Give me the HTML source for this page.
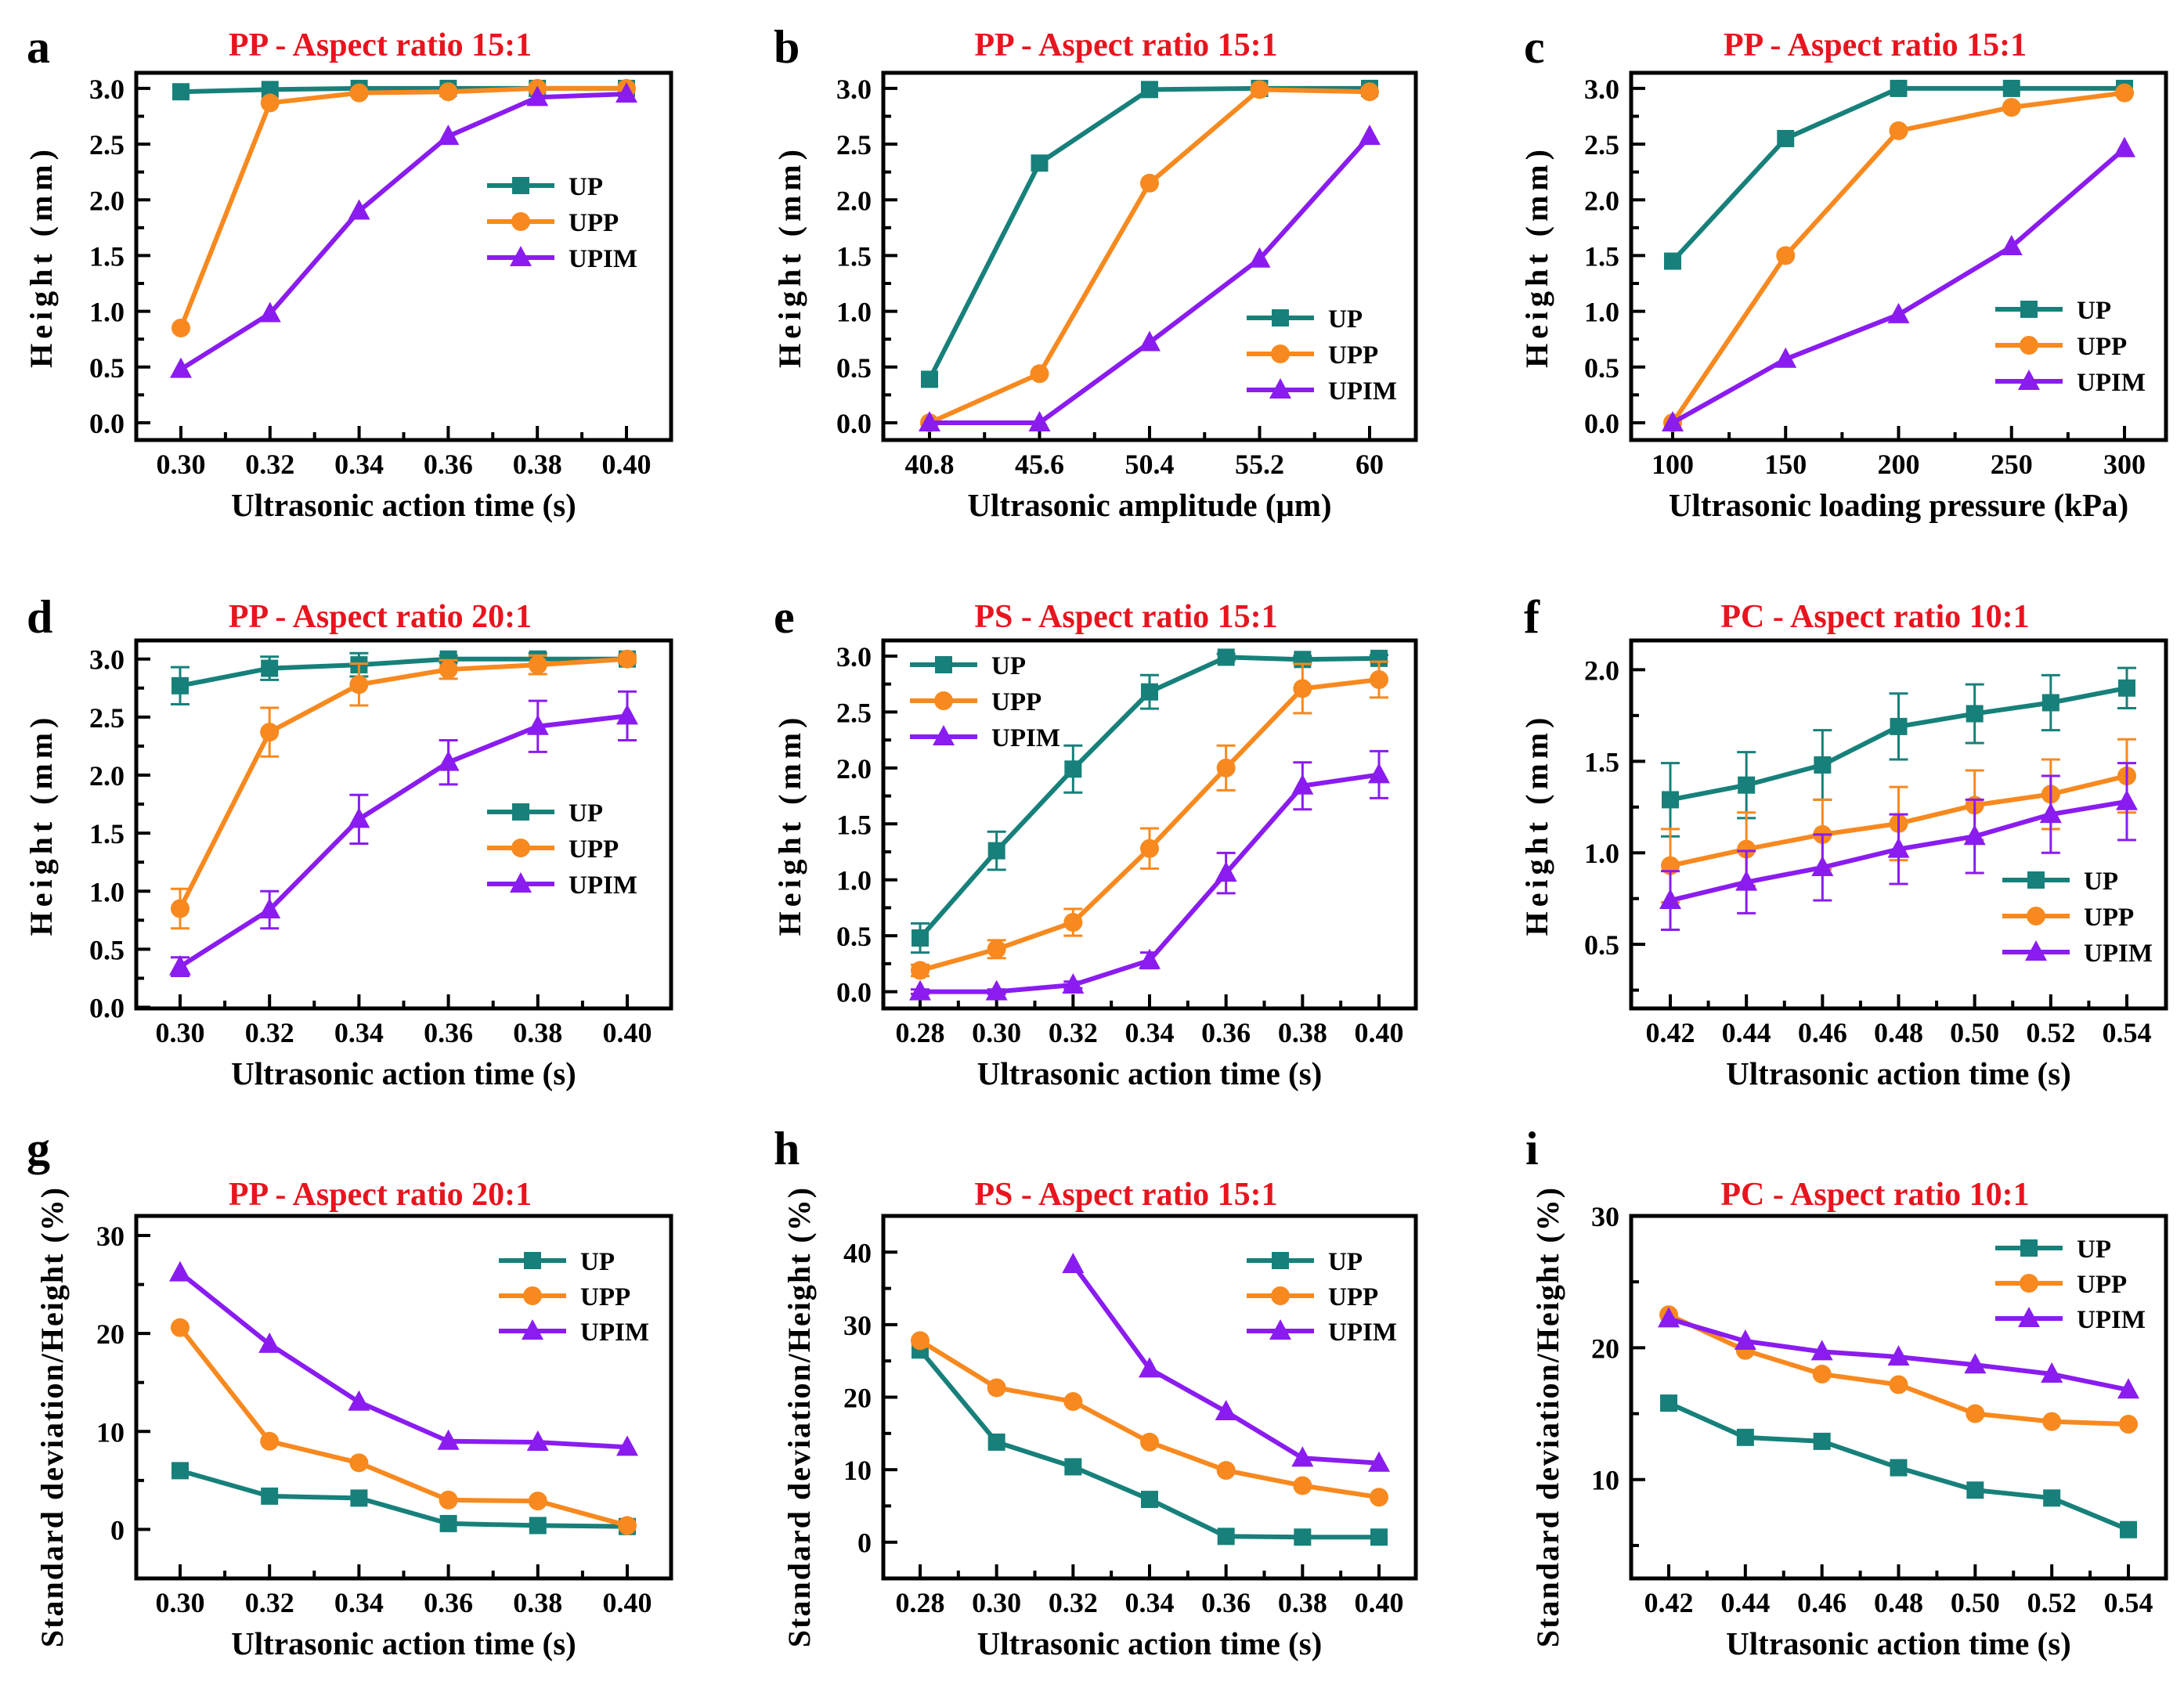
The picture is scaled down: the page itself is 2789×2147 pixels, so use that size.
<!DOCTYPE html>
<html><head><meta charset="utf-8">
<style>
html,body{margin:0;padding:0;background:#fff;}
svg{display:block;font-family:"Liberation Serif",serif;font-weight:bold;}
</style></head>
<body>
<svg id="fig" width="2789" height="2147" viewBox="0 0 2789 2147" xmlns="http://www.w3.org/2000/svg"></svg>
<script>
// ---- data ----
const aX = ["0.30","0.32","0.34","0.36","0.38","0.40"];
const aUP = [2.97,2.99,3.0,3.0,3.0,3.0];
const aUPP = [0.85,2.87,2.96,2.97,3.0,3.0];
const aUPIM = [0.48,0.98,1.9,2.57,2.92,2.95];

const bX = ["40.8","45.6","50.4","55.2","60"];
const bUP = [0.39,2.33,2.99,3.0,3.0];
const bUPP = [0.0,0.44,2.15,2.99,2.97];
const bUPIM = [0.0,0.0,0.72,1.47,2.57];

const cX = ["100","150","200","250","300"];
const cUP = [1.45,2.55,3.0,3.0,3.0];
const cUPP = [0.0,1.5,2.62,2.83,2.96];
const cUPIM = [0.0,0.57,0.97,1.58,2.46];

const dX = ["0.30","0.32","0.34","0.36","0.38","0.40"];
const dUP = [2.77,2.92,2.95,3.0,3.0,3.0];
const dUPerr = [0.16,0.1,0.1,0.03,0.05,0.03];
const dUPP = [0.85,2.37,2.78,2.91,2.95,3.0];
const dUPPerr = [0.17,0.21,0.18,0.08,0.08,0.03];
const dUPIM = [0.35,0.84,1.62,2.11,2.42,2.51];
const dUPIMerr = [0.08,0.16,0.21,0.19,0.22,0.21];

const eX = ["0.28","0.30","0.32","0.34","0.36","0.38","0.40"];
const eUP = [0.48,1.26,1.99,2.68,2.99,2.97,2.98];
const eUPerr = [0.13,0.17,0.21,0.15,0.03,0.03,0.03];
const eUPP = [0.19,0.38,0.62,1.28,2.0,2.71,2.79];
const eUPPerr = [0.05,0.08,0.12,0.18,0.2,0.22,0.16];
const eUPIM = [0.0,0.0,0.06,0.28,1.06,1.84,1.94];
const eUPIMerr = [0.02,0.02,0.03,0.07,0.18,0.21,0.21];

const fX = ["0.42","0.44","0.46","0.48","0.50","0.52","0.54"];
const fUP = [1.29,1.37,1.48,1.69,1.76,1.82,1.9];
const fUPerr = [0.2,0.18,0.19,0.18,0.16,0.15,0.11];
const fUPP = [0.93,1.02,1.1,1.16,1.26,1.32,1.42];
const fUPPerr = [0.2,0.2,0.19,0.2,0.19,0.19,0.2];
const fUPIM = [0.74,0.84,0.92,1.02,1.09,1.21,1.28];
const fUPIMerr = [0.16,0.17,0.18,0.19,0.2,0.21,0.21];

const gX = ["0.30","0.32","0.34","0.36","0.38","0.40"];
const gUP = [6.0,3.4,3.2,0.6,0.4,0.3];
const gUPP = [20.6,9.0,6.8,3.0,2.9,0.4];
const gUPIM = [26.2,18.9,13.0,9.0,8.9,8.4];

const hX = ["0.28","0.30","0.32","0.34","0.36","0.38","0.40"];
const hUP = [26.5,13.8,10.4,5.9,0.8,0.7,0.7];
const hUPP = [27.8,21.3,19.4,13.8,9.9,7.8,6.2];
const hUPIM = [null,null,38.3,23.9,18.0,11.6,10.9];

const iX = ["0.42","0.44","0.46","0.48","0.50","0.52","0.54"];
const iUP = [15.8,13.2,12.9,10.9,9.2,8.6,6.2];
const iUPP = [22.5,19.8,18.0,17.2,15.0,14.4,14.2];
const iUPIM = [22.2,20.5,19.7,19.3,18.7,18.0,16.8];

const heightTicks = ["0.0","0.5","1.0","1.5","2.0","2.5","3.0"];
const fTicks = ["0.5","1.0","1.5","2.0"];
const gTicks = ["0","10","20","30"];
const hTicks = ["0","10","20","30","40"];
const iTicks = ["10","20","30"];

// ---- drawing ----
const NS = "http://www.w3.org/2000/svg";
const svg = document.getElementById("fig");
const C = {UP:"#17807a", UPP:"#f7891f", UPIM:"#8a1cf0"};
function mk(tag, attrs, parent){
  const e = document.createElementNS(NS, tag);
  for (const k in attrs) e.setAttribute(k, attrs[k]);
  (parent||svg).appendChild(e);
  return e;
}
function marker(g, type, x, y, color){
  let m;
  if (type==="UP") m = mk("rect",{x:x-11,y:y-11,width:22,height:22,fill:color},g);
  else if (type==="UPP") m = mk("circle",{cx:x,cy:y,r:12,fill:color},g);
  else m = mk("polygon",{points:`${x},${y-15} ${x+14},${y+11} ${x-14},${y+11}`,fill:color},g);
  return m;
}
function panel(p){
  const g = mk("g",{});
  
  
  const L=p.box[0], R=p.box[1], T=p.box[2], B=p.box[3];
  const n = p.cats.length;
  const xs = i => L + p.pad + (R - L - 2*p.pad) * i / (n - 1);
  const ys = v => B - (v - p.ymin) / (p.ymax - p.ymin) * (B - T);
  const lt = mk("text",{x:p.letter[0],y:p.letter[1],"font-size":60,fill:"#000"},g);
  lt.textContent = p.id;
  
  
  const tt = mk("text",{x:(L+R)/2-30,y:T-p.titleOff,"font-size":42,fill:"#e8141e","text-anchor":"middle"},g);
  tt.textContent = p.title;
  
  
  const fr = mk("rect",{x:L,y:T,width:R-L,height:B-T,fill:"none",stroke:"#000","stroke-width":5},g);
  
  
  for (let i=0;i<n;i++){
    const x = xs(i);
    mk("line",{x1:x,y1:B,x2:x,y2:B-18,stroke:"#000","stroke-width":4},g);
    if (i<n-1){ const xm=(x+xs(i+1))/2; mk("line",{x1:xm,y1:B,x2:xm,y2:B-10,stroke:"#000","stroke-width":4},g); }
    const tl = mk("text",{x:x,y:B+43,"font-size":36,"text-anchor":"middle",fill:"#000"},g);
    tl.textContent = p.cats[i];
    
    
  }
  const step = parseFloat(p.yt[1]) - parseFloat(p.yt[0]);
  for (let v = parseFloat(p.yt[0]) - step; v <= p.ymax + 1e-9; v += step/2){
    if (v < p.ymin - 1e-9) continue;
    const y = ys(v);
    if (y > B - 1) continue;
    const major = p.yt.some(t => Math.abs(parseFloat(t) - v) < 1e-6);
    mk("line",{x1:L,y1:y,x2:L+(major?18:10),y2:y,stroke:"#000","stroke-width":4},g);
  }
  p.yt.forEach(t => {
    const yl = mk("text",{x:L-15,y:ys(parseFloat(t))+13,"font-size":36,"text-anchor":"end",fill:"#000"},g);
    yl.textContent = t;
    
    
  });
  const xt = mk("text",{x:(L+R)/2,y:B+97,"font-size":41,"text-anchor":"middle",fill:"#000"},g);
  xt.textContent = p.xtitle;
  
  
  const cy = (T+B)/2 + (p.ytShift||0);
  const yt = mk("text",{x:p.ytx,y:cy,"font-size":40,"text-anchor":"middle",fill:"#000","letter-spacing":p.ytls||6,transform:`rotate(-90 ${p.ytx} ${cy})`},g);
  yt.textContent = p.ytitle;
  
  
  p.series.forEach(s => {
    const sg = mk("g",{},g);
    
    
    const pts = [];
    s.vals.forEach((v,i)=>{ if (v!==null) pts.push([xs(i), ys(v)]); });
    if (s.err){
      s.vals.forEach((v,i)=>{
        if (v===null) return;
        const x=xs(i), y1=ys(v+s.err[i]), y2=ys(v-s.err[i]);
        mk("line",{x1:x,y1:y1,x2:x,y2:y2,stroke:s.color,"stroke-width":3},sg);
        mk("line",{x1:x-12,y1:y1,x2:x+12,y2:y1,stroke:s.color,"stroke-width":3},sg);
        mk("line",{x1:x-12,y1:y2,x2:x+12,y2:y2,stroke:s.color,"stroke-width":3},sg);
      });
    }
    mk("polyline",{points:pts.map(q=>q.join(",")).join(" "),fill:"none",stroke:s.color,"stroke-width":6,"stroke-linejoin":"round"},sg);
    pts.forEach(q=>{
      const m = marker(sg, s.name, q[0], q[1], s.color);
      
      
    });
  });
  const lg = mk("g",{},g);
  
  
  ["UP","UPP","UPIM"].forEach((nm,k)=>{
    const x0=p.leg[0], y0=p.leg[1]+k*p.legStep;
    const e = mk("g",{},lg);
    
    
    mk("line",{x1:x0,y1:y0,x2:x0+86,y2:y0,stroke:C[nm],"stroke-width":6},e);
    marker(e, nm, x0+43, y0, C[nm]);
    const lt2 = mk("text",{x:x0+104,y:y0+12,"font-size":33,fill:"#000"},e);
    lt2.textContent = nm;
  });
}
function S(up,upp,upim,eu,ep,ei){
  return [{name:"UP",vals:up,err:eu,color:C.UP},{name:"UPP",vals:upp,err:ep,color:C.UPP},{name:"UPIM",vals:upim,err:ei,color:C.UPIM}];
}
const T1="Ultrasonic action time (s)";
const r1=[93,562], r2=[818,1288], r3=[1553,2016];
const c1=[174,857], c2=[1128,1808], c3=[2083,2766];
panel({id:"a",box:[...c1,...r1],pad:57,cats:aX,ymin:-0.155,ymax:3.14,yt:heightTicks,title:"PP - Aspect ratio 15:1",titleOff:22,letter:[34,80],xtitle:T1,ytitle:"Height (mm)",ytx:66,series:S(aUP,aUPP,aUPIM),leg:[622,237],legStep:46});
panel({id:"b",box:[...c2,...r1],pad:59,cats:bX,ymin:-0.155,ymax:3.14,yt:heightTicks,title:"PP - Aspect ratio 15:1",titleOff:22,letter:[988,80],xtitle:"Ultrasonic amplitude (μm)",ytitle:"Height (mm)",ytx:1022,series:S(bUP,bUPP,bUPIM),leg:[1592,406],legStep:46});
panel({id:"c",box:[...c3,...r1],pad:53,cats:cX,ymin:-0.155,ymax:3.14,yt:heightTicks,title:"PP - Aspect ratio 15:1",titleOff:22,letter:[1946,80],xtitle:"Ultrasonic loading pressure (kPa)",ytitle:"Height (mm)",ytx:1976,series:S(cUP,cUPP,cUPIM),leg:[2548,395],legStep:46});
panel({id:"d",box:[...c1,...r2],pad:56,cats:dX,ymin:-0.01,ymax:3.16,yt:heightTicks,title:"PP - Aspect ratio 20:1",titleOff:17,letter:[34,808],xtitle:T1,ytitle:"Height (mm)",ytx:66,series:S(dUP,dUPP,dUPIM,dUPerr,dUPPerr,dUPIMerr),leg:[622,1037],legStep:46});
panel({id:"e",box:[...c2,...r2],pad:47,cats:eX,ymin:-0.15,ymax:3.14,yt:heightTicks,title:"PS - Aspect ratio 15:1",titleOff:17,letter:[988,808],xtitle:T1,ytitle:"Height (mm)",ytx:1022,series:S(eUP,eUPP,eUPIM,eUPerr,eUPPerr,eUPIMerr),leg:[1162,849],legStep:46});
panel({id:"f",box:[...c3,...r2],pad:50,cats:fX,ymin:0.15,ymax:2.16,yt:fTicks,title:"PC - Aspect ratio 10:1",titleOff:17,letter:[1946,808],xtitle:T1,ytitle:"Height (mm)",ytx:1976,series:S(fUP,fUPP,fUPIM,fUPerr,fUPPerr,fUPIMerr),leg:[2557,1124],legStep:46});
panel({id:"g",box:[...c1,...r3],pad:56,cats:gX,ymin:-5,ymax:32,yt:gTicks,title:"PP - Aspect ratio 20:1",titleOff:14,letter:[34,1487],xtitle:T1,ytitle:"Standard deviation/Height (%)",ytx:80,ytls:2,ytShift:25,series:S(gUP,gUPP,gUPIM),leg:[637,1610],legStep:45});
panel({id:"h",box:[...c2,...r3],pad:47,cats:hX,ymin:-5,ymax:45,yt:hTicks,title:"PS - Aspect ratio 15:1",titleOff:14,letter:[988,1487],xtitle:T1,ytitle:"Standard deviation/Height (%)",ytx:1034,ytls:2,ytShift:25,series:S(hUP,hUPP,hUPIM),leg:[1592,1610],legStep:45});
panel({id:"i",box:[...c3,...r3],pad:48,cats:iX,ymin:2.5,ymax:30,yt:iTicks,title:"PC - Aspect ratio 10:1",titleOff:14,letter:[1948,1487],xtitle:T1,ytitle:"Standard deviation/Height (%)",ytx:1990,ytls:2,ytShift:25,series:S(iUP,iUPP,iUPIM),leg:[2548,1594],legStep:45});
</script>
</body></html>
